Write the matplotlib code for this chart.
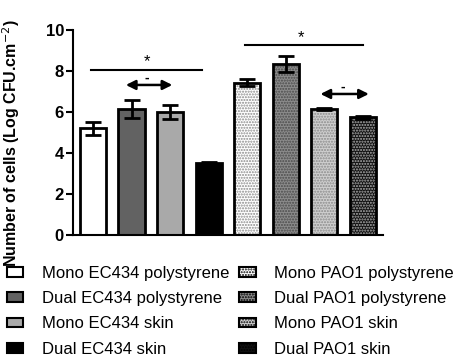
import matplotlib
matplotlib.use('Agg')
import matplotlib.pyplot as plt
from matplotlib.patches import Patch

plt.rcParams['font.family'] = ['Liberation Sans', 'DejaVu Sans']

# Data
labels = ['Mono EC434 polystyrene', 'Dual EC434 polystyrene', 'Mono EC434 skin', 'Dual EC434 skin',
          'Mono PAO1 polystyrene', 'Dual PAO1 polystyrene', 'Mono PAO1 skin', 'Dual PAO1 skin']
values = [5.2, 6.15, 6.0, 3.5, 7.42, 8.33, 6.15, 5.75]
errors = [0.33, 0.45, 0.32, 0.07, 0.17, 0.38, 0.05, 0.07]

# fill colour, dot colour, hatch pattern
faces = ['white', '#626262', '#a9a9a9', 'black', 'white', '#8c8c8c', '#cfcfcf', '#111111']
hatch_colors = [None, None, None, None, '#8a8a8a', '#4a4a4a', '#8a8a8a', '#b0b0b0']
hatches = [None, None, None, None, '......', '......', '......', '......']

fig = plt.figure(figsize=(4.59, 3.62), dpi=100)
ax = fig.add_axes([0.159, 0.351, 0.675, 0.566])

x = list(range(len(values)))
width = 0.68
for i in x:
    if hatches[i]:
        ax.bar(i, values[i], width, color=faces[i], edgecolor=hatch_colors[i],
               hatch=hatches[i], linewidth=0, zorder=2)
    else:
        ax.bar(i, values[i], width, color=faces[i], linewidth=0, zorder=2)
    ax.bar(i, values[i], width, fill=False, edgecolor='black', linewidth=2, zorder=3)
ax.errorbar(x, values, yerr=errors, fmt='none', ecolor='black', elinewidth=2,
            capsize=6, capthick=2, zorder=4)

# Significance annotations
ax.plot([-0.05, 2.83], [8.05, 8.05], color='black', lw=1.5)
ax.text(1.4, 8.45, '*', ha='center', va='center', fontsize=12)
ax.annotate('', xy=(0.78, 7.32), xytext=(2.13, 7.32),
            arrowprops=dict(arrowstyle='<|-|>', color='black', lw=1.8, mutation_scale=14))
ax.text(1.4, 7.68, '-', ha='center', va='center', fontsize=10, fontweight='bold')

ax.plot([3.95, 7.0], [9.27, 9.27], color='black', lw=1.5)
ax.text(5.39, 9.62, '*', ha='center', va='center', fontsize=12)
ax.annotate('', xy=(5.83, 6.88), xytext=(7.23, 6.88),
            arrowprops=dict(arrowstyle='<|-|>', color='black', lw=1.8, mutation_scale=14))
ax.text(6.48, 7.25, '-', ha='center', va='center', fontsize=10, fontweight='bold')

ax.set_xlim(-0.52, 7.52)
ax.set_ylim(0, 10)
ax.set_yticks([0, 2, 4, 6, 8, 10])
ax.set_xticks([])
ax.spines['top'].set_visible(False)
ax.spines['right'].set_visible(False)
ax.spines['left'].set_linewidth(1.5)
ax.spines['bottom'].set_linewidth(1.5)
ax.tick_params(axis='y', width=1.5, length=5, labelsize=12, pad=1.5)
for t in ax.get_yticklabels():
    t.set_fontweight('bold')
ax.set_ylabel('Number of cells (Log CFU.cm$^{-2}$)', fontsize=11.5, fontweight='bold')
ax.yaxis.set_label_coords(-0.165, 0.45)

handles = []
for i in x:
    if hatches[i]:
        handles.append(Patch(facecolor=faces[i], edgecolor='black', hatch=hatches[i], linewidth=1.5))
    else:
        handles.append(Patch(facecolor=faces[i], edgecolor='black', linewidth=1.5))

fig.legend(handles, labels, ncol=2, loc='lower left', bbox_to_anchor=(-0.007, -0.013),
           frameon=False, fontsize=12, handlelength=1.0, handleheight=0.5,
           handletextpad=1.1, columnspacing=0.6, labelspacing=0.62, borderaxespad=0.2)

fig.savefig('out.png', dpi=100)
